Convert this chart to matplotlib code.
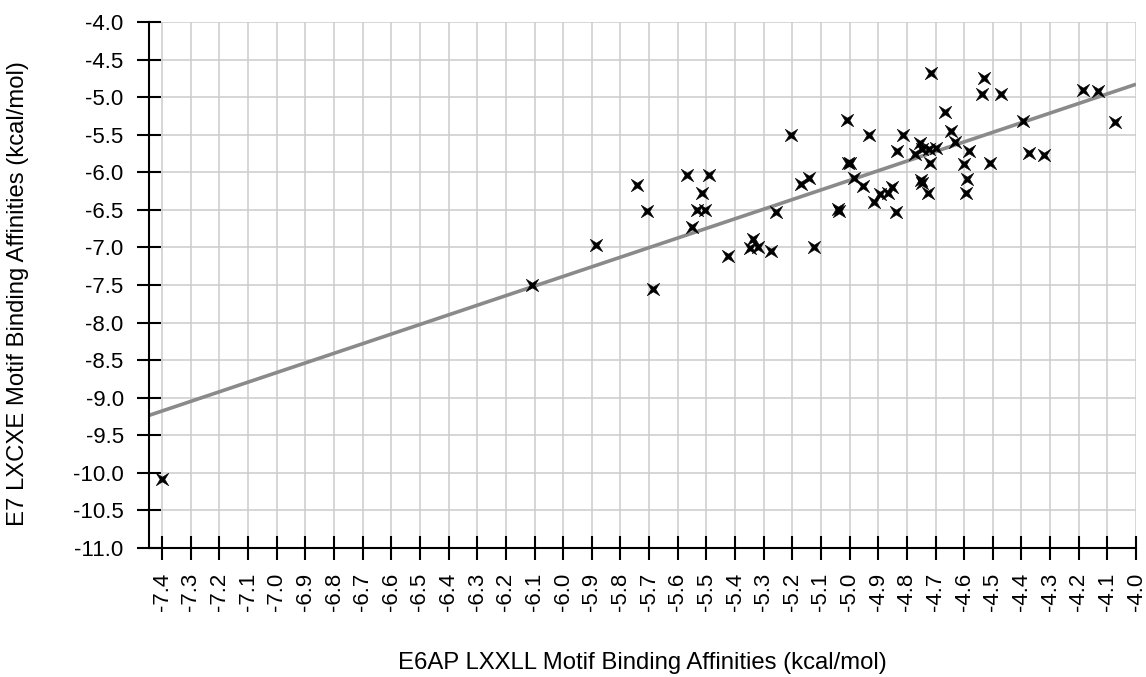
import numpy as np
import matplotlib
matplotlib.use("Agg")
import matplotlib.pyplot as plt
from matplotlib.path import Path

# E6AP LXXLL (x) vs E7 LXCXE (y) binding affinities, kcal/mol
e6ap = [-7.400, -6.110, -5.886, -5.742, -5.709, -5.685, -5.566, -5.491,
        -5.515, -5.532, -5.504, -5.551, -5.426, -5.336, -5.348, -5.320,
        -5.276, -5.257, -5.203, -5.168, -5.141, -5.124, -5.042, -5.036,
        -5.009, -5.006, -4.997, -4.986, -4.952, -4.933, -4.914, -4.894,
        -4.865, -4.851, -4.839, -4.835, -4.814, -4.753, -4.771, -4.747,
        -4.724, -4.698, -4.721, -4.751, -4.748, -4.727, -4.716, -4.667,
        -4.645, -4.633, -4.599, -4.584, -4.589, -4.594, -4.538, -4.532,
        -4.473, -4.511, -4.393, -4.374, -4.321, -4.186, -4.134, -4.075]
e7 = [-10.08, -7.50, -6.97, -6.17, -6.51, -7.56, -6.04, -6.04,
      -6.27, -6.50, -6.50, -6.73, -7.12, -6.89, -7.01, -6.99,
      -7.05, -6.53, -5.50, -6.16, -6.08, -6.99, -6.49, -6.51,
      -5.30, -5.88, -5.88, -6.07, -6.18, -5.50, -6.39, -6.29,
      -6.27, -6.20, -6.53, -5.72, -5.50, -5.61, -5.76, -5.69,
      -5.69, -5.67, -5.88, -6.10, -6.14, -6.28, -4.68, -5.19,
      -5.45, -5.59, -5.89, -5.71, -6.09, -6.27, -4.96, -4.74,
      -4.96, -5.88, -5.31, -5.74, -5.77, -4.90, -4.91, -5.33]

x_ticks = np.round(np.arange(-7.4, -3.95, 0.1), 1)
y_ticks = np.arange(-11.0, -3.9, 0.5)
x_range = (-7.446, -4.0)
y_range = (-11.0, -4.0)

# four-pointed star, rotated like an x
ang = np.deg2rad(np.arange(8) * 45 + 45)
rad = np.where(np.arange(8) % 2 == 0, 1.0, 0.27)
star = np.column_stack([rad * np.cos(ang), rad * np.sin(ang)])
star_marker = Path(np.vstack([star, star[:1]]), closed=True)

plt.rcParams['font.family'] = ['Liberation Sans', 'DejaVu Sans']

fig = plt.figure(figsize=(11.46, 6.77), dpi=100)
ax = fig.add_axes([0.1300, 0.1910, 0.8613, 0.7761])

# linear trendline through the points
slope, icept = np.polyfit(e6ap, e7, 1)
xt = np.array(x_range)
ax.plot(xt, slope * xt + icept, color='#8a8a8a', lw=2.6, zorder=3,
        solid_capstyle='butt')

ax.plot(e6ap, e7, linestyle='none', marker=star_marker, markersize=9,
        color='black', mec='black', mew=0.4, zorder=4)

ax.set_xlim(x_range)
ax.set_ylim(y_range)
ax.set_xticks(x_ticks)
ax.set_yticks(y_ticks)
ax.set_xticklabels([f"{v:.1f}" for v in x_ticks])
ax.set_yticklabels([f"{v:.1f}" for v in y_ticks])

ax.grid(True, color='#cccccc', lw=1.1, zorder=0)
ax.set_axisbelow(True)
for s in ['top', 'right']:
    ax.spines[s].set_visible(False)
for s in ['left', 'bottom']:
    ax.spines[s].set_linewidth(1.5)
    ax.spines[s].set_color('black')
    ax.spines[s].set_zorder(5)

ax.tick_params(axis='both', direction='inout', length=17.5, width=1.5,
               colors='black', labelsize=16)
ax.tick_params(axis='y', pad=9.5)
ax.tick_params(axis='x', pad=9.5, labelrotation=90)

ax.set_xlabel("E6AP LXXLL Motif Binding Affinities (kcal/mol)", fontsize=17.2)
ax.set_ylabel("E7 LXCXE Motif Binding Affinities (kcal/mol)", fontsize=17.2)
ax.xaxis.set_label_coords(0.5, -0.198)
ax.yaxis.set_label_coords(-0.122, 0.483)

fig.savefig("out.png", dpi=100)
